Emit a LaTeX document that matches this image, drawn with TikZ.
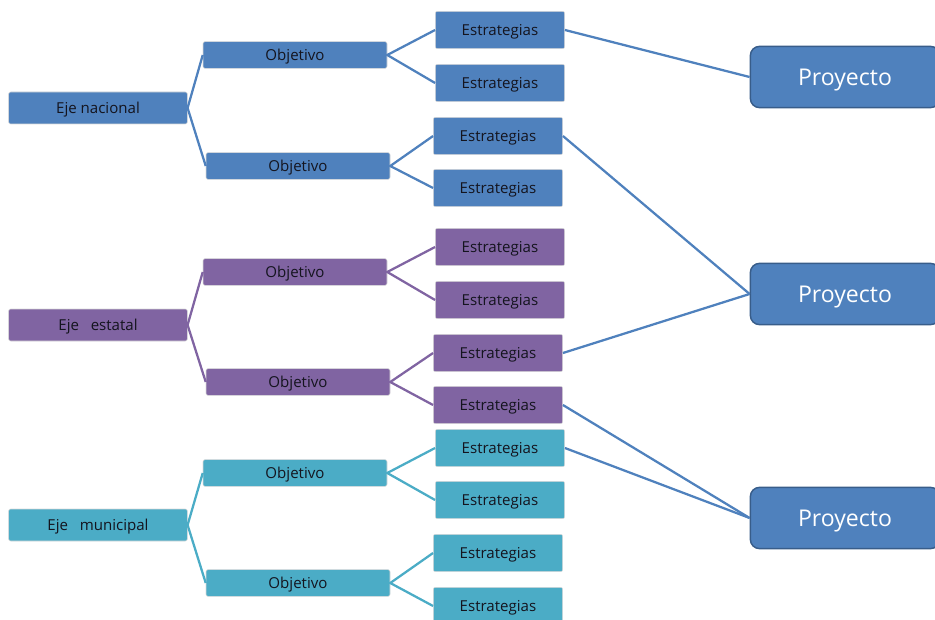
\documentclass[tikz,border=0pt]{standalone}
\usepackage{fontspec}
\setmainfont{Open Sans}
\usetikzlibrary{positioning}
\usetikzlibrary{calc}

\definecolor{ejeblue}{HTML}{4F81BD}
\definecolor{ejepurple}{HTML}{8064A2}
\definecolor{ejecyan}{HTML}{4BACC6}
\definecolor{proyline}{HTML}{385D8A}
\definecolor{boxtext}{HTML}{14141E}

\begin{document}
\begin{tikzpicture}[x=0.75pt, y=-0.75pt,
    box/.style={draw=white!85!black, line width=0.4pt, rounded corners=1.5pt, inner sep=0pt, text height=8.1pt, text depth=0pt, text=boxtext, font=\fontsize{11.3}{13}\selectfont},
    eje/.style={box, minimum width=134pt, minimum height=24pt},
    obj/.style={box, minimum width=138pt, minimum height=20pt},
    est/.style={box, minimum width=97pt, minimum height=28pt},
    proy/.style={draw=proyline, line width=1.1pt, fill=ejeblue, rounded corners=7pt, minimum width=142pt, minimum height=46pt, inner sep=0pt, text height=12.4pt, text depth=0pt, text=white, font=\fontsize{17.3}{20}\selectfont},
    link/.style={line width=1.7pt}]

    \useasboundingbox (0,0) rectangle (935,620);

    % nacional
    \node[eje, fill=ejeblue] (en) at (98,108) {Eje nacional};
    \node[obj, fill=ejeblue] (on1) at (295,55) {Objetivo};
    \node[obj, fill=ejeblue] (on2) at (298,166) {Objetivo};
    \node[est, fill=ejeblue] (sn1) at (500,30) {Estrategias};
    \node[est, fill=ejeblue] (sn2) at (500,83) {Estrategias};
    \node[est, fill=ejeblue] (sn3) at (498,136) {Estrategias};
    \node[est, fill=ejeblue] (sn4) at (498,188) {Estrategias};

    % estatal
    \node[eje, fill=ejepurple] (ee) at (98,325) {Eje\ \ \ estatal};
    \node[obj, fill=ejepurple] (oe1) at (295,272) {Objetivo};
    \node[obj, fill=ejepurple] (oe2) at (298,382) {Objetivo};
    \node[est, fill=ejepurple] (se1) at (500,247) {Estrategias};
    \node[est, fill=ejepurple] (se2) at (500,300) {Estrategias};
    \node[est, fill=ejepurple] (se3) at (498,353) {Estrategias};
    \node[est, fill=ejepurple] (se4) at (498,405) {Estrategias};

    % municipal
    \node[eje, fill=ejecyan] (em) at (98,525) {Eje\ \ \ municipal};
    \node[obj, fill=ejecyan] (om1) at (295,473) {Objetivo};
    \node[obj, fill=ejecyan] (om2) at (298,583) {Objetivo};
    \node[est, fill=ejecyan] (sm1) at (500,448) {Estrategias};
    \node[est, fill=ejecyan] (sm2) at (500,500) {Estrategias};
    \node[est, fill=ejecyan] (sm3) at (498,553) {Estrategias};
    \node[est, fill=ejecyan] (sm4) at (498,606) {Estrategias};

    \node[proy] (p1) at (845,77) {Proyecto};
    \node[proy] (p2) at (845,294) {Proyecto};
    \node[proy] (p3) at (845,518) {Proyecto};

    \draw[link, ejeblue] (on1.west) -- (en.east) -- (on2.west);
    \draw[link, ejeblue] (sn1.west) -- (on1.east) -- (sn2.west);
    \draw[link, ejeblue] (sn3.west) -- (on2.east) -- (sn4.west);

    \draw[link, ejepurple] (oe1.west) -- (ee.east) -- (oe2.west);
    \draw[link, ejepurple] (se1.west) -- (oe1.east) -- (se2.west);
    \draw[link, ejepurple] (se3.west) -- (oe2.east) -- (se4.west);

    \draw[link, ejecyan] (om1.west) -- (em.east) -- (om2.west);
    \draw[link, ejecyan] (sm1.west) -- (om1.east) -- (sm2.west);
    \draw[link, ejecyan] (sm3.west) -- (om2.east) -- (sm4.west);

    \draw[link, ejeblue] (sn1.east) -- (p1.west);
    \draw[link, ejeblue] (sn3.east) -- (p2.west);
    \draw[link, ejeblue] (se3.east) -- (p2.west);
    \draw[link, ejeblue] (se4.east) -- (p3.west);
    \draw[link, ejeblue] (sm1.east) -- (p3.west);

  \end{tikzpicture}
\end{document}
